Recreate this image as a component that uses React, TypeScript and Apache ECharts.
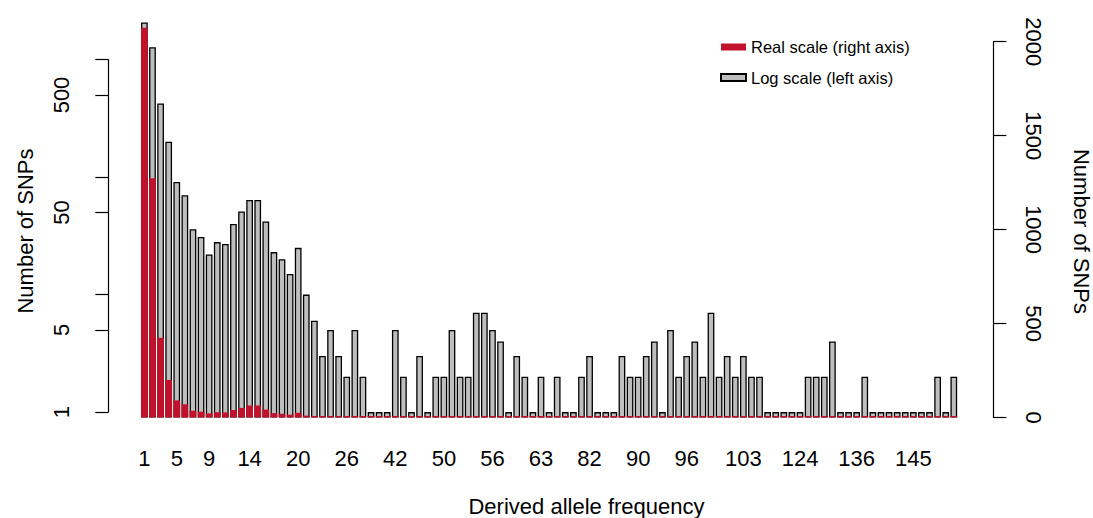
import React, { useEffect, useRef } from "react";
import * as echarts from "echarts";

// Derived allele frequency categories (only frequencies with at least one SNP)
const categories: string[] = [
  "1", "2", "3", "4", "5", "6", "7", "8", "9", "10",
  "11", "12", "13", "14", "15", "16", "17", "18", "19", "20",
  "21", "22", "23", "24", "25", "26", "28", "31", "33", "36",
  "39", "42", "43", "44", "46", "47", "48", "50", "51", "52",
  "53", "54", "55", "56", "57", "58", "59", "60", "61", "63",
  "65", "68", "71", "75", "79", "82", "83", "84", "85", "87",
  "88", "90", "91", "92", "93", "94", "95", "96", "97", "98",
  "99", "100", "101", "102", "103", "105", "108", "112", "115", "118",
  "121", "124", "126", "127", "129", "131", "132", "134", "136", "137",
  "138", "140", "141", "142", "143", "145", "146", "147", "148", "149",
  "150",
];

// Number of SNPs per derived allele frequency
const snpCounts: number[] = [
  2074, 1273, 424, 200, 91, 70, 36, 31, 22, 28,
  27, 40, 51, 64, 64, 42, 23, 20, 15, 25,
  10, 6, 3, 5, 3, 2, 5, 2, 1, 1,
  1, 5, 2, 1, 3, 1, 2, 2, 5, 2,
  2, 7, 7, 5, 4, 1, 3, 2, 1, 2,
  1, 2, 1, 1, 2, 3, 1, 1, 1, 3,
  2, 2, 3, 4, 1, 5, 2, 3, 4, 2,
  7, 2, 3, 2, 3, 2, 2, 1, 1, 1,
  1, 1, 2, 2, 2, 4, 1, 1, 1, 2,
  1, 1, 1, 1, 1, 1, 1, 1, 2, 1,
  2,
];

// Category labels that are printed under the bars
const xTickLabels: string[] = [
  "1", "5", "9", "14", "20", "26", "42", "50", "56", "63",
  "82", "90", "96", "103", "124", "136", "145",
];

// Left (log) axis ticks and labels
const leftTicks: number[] = [1, 5, 10, 50, 100, 500, 1000];
const leftLabels: number[] = [1, 5, 50, 500];

// Right (linear) axis range
const rightMin = 0;
const rightMax = 2000;
const rightStep = 500;

const seriesNames = ["Real scale (right axis)", "Log scale (left axis)"];
const axisTitle = "Number of SNPs";
const xTitle = "Derived allele frequency";

const FONT = "'Liberation Sans', Arial, Helvetica, sans-serif";
const RED = "#C1112B";
const GRAY = "#BEBEBE";

export default function App() {
  const ref = useRef<HTMLDivElement>(null);

  useEffect(() => {
    if (!ref.current) return;
    const chart = echarts.init(ref.current, undefined, { renderer: "svg" });

    const gridLeft = 140.35;
    const gridWidth = 817.5;
    const baseY = 417.5;
    const pxPerDecade = 117.5;
    const logMin = 0.9;
    const logTopY = baseY - pxPerDecade * Math.log10(1000 / logMin);
    const oneY = baseY - pxPerDecade * Math.log10(1 / logMin);
    const redTopY = 41.7;
    const H = 518;
    const gap = "16.67%";

    const option: any = {
      animation: false,
      textStyle: { fontFamily: FONT, color: "#000" },
      grid: [
        { left: gridLeft, width: gridWidth, top: logTopY, bottom: H - baseY, outerBoundsMode: "none" },
        { left: gridLeft, width: gridWidth, top: redTopY, bottom: H - baseY, outerBoundsMode: "none" },
        { left: gridLeft, width: gridWidth, top: logTopY, bottom: H - oneY, outerBoundsMode: "none" },
      ],
      legend: {
        orient: "vertical",
        left: 715,
        top: 33.5,
        itemWidth: 25,
        itemHeight: 7,
        itemGap: 13.5,
        icon: "rect",
        data: seriesNames,
        textStyle: { fontSize: 16.5, color: "#000", fontFamily: FONT },
      },
      xAxis: [
        {
          gridIndex: 0,
          type: "category",
          data: categories,
          axisLine: { show: false },
          axisTick: { show: false },
          axisLabel: {
            interval: (i: number) => xTickLabels.includes(categories[i]),
            fontSize: 22,
            color: "#000",
            fontFamily: FONT,
            margin: 30,
          },
        },
        { gridIndex: 1, type: "category", data: categories, show: false },
        { gridIndex: 2, type: "category", data: categories, show: false },
      ],
      yAxis: [
        {
          gridIndex: 0,
          type: "log",
          logBase: 10,
          min: logMin,
          max: 1000,
          startValue: logMin,
          show: false,
        },
        {
          gridIndex: 1,
          type: "value",
          position: "right",
          offset: 35.5,
          min: rightMin,
          max: rightMax,
          interval: rightStep,
          axisLine: { show: true, lineStyle: { color: "#000", width: 1.2 } },
          axisTick: { show: true, length: 13, lineStyle: { color: "#000", width: 1.2 } },
          axisLabel: {
            rotate: -90,
            fontSize: 22,
            color: "#000",
            fontFamily: FONT,
            margin: 29,
            formatter: (v: number) => String(v),
          },
          splitLine: { show: false },
        },
        {
          gridIndex: 2,
          type: "log",
          logBase: 10,
          position: "left",
          offset: gridLeft - 108.3,
          min: 1,
          max: 1000,
          axisLine: { show: true, lineStyle: { color: "#000", width: 1.2 } },
          axisTick: { show: true, length: 13, customValues: leftTicks, lineStyle: { color: "#000", width: 1.2 } },
          axisLabel: {
            customValues: leftLabels,
            rotate: 90,
            fontSize: 22,
            color: "#000",
            fontFamily: FONT,
            margin: 36,
            formatter: (v: number) => String(v),
          },
          splitLine: { show: false },
          minorTick: { show: false },
        },
      ],
      series: [
        {
          name: seriesNames[1],
          type: "bar",
          xAxisIndex: 0,
          yAxisIndex: 0,
          data: snpCounts,
          barCategoryGap: gap,
          clip: false,
          itemStyle: { color: GRAY, borderColor: "#000", borderWidth: 1.3 },
          z: 2,
        },
        {
          name: seriesNames[0],
          type: "bar",
          xAxisIndex: 1,
          yAxisIndex: 1,
          data: snpCounts,
          barCategoryGap: gap,
          barMinHeight: 1.5,
          clip: false,
          itemStyle: { color: RED },
          z: 3,
        },
      ],
      graphic: [
        {
          type: "text",
          x: 25,
          y: 231,
          rotation: Math.PI / 2,
          style: { text: axisTitle, fontSize: 22, fontFamily: FONT, fill: "#000", align: "center", verticalAlign: "middle" },
        },
        {
          type: "text",
          x: 1081.5,
          y: 231.5,
          rotation: -Math.PI / 2,
          style: { text: axisTitle, fontSize: 22, fontFamily: FONT, fill: "#000", align: "center", verticalAlign: "middle" },
        },
        {
          type: "text",
          x: 586.5,
          y: 506,
          style: { text: xTitle, fontSize: 22, fontFamily: FONT, fill: "#000", align: "center", verticalAlign: "middle" },
        },
      ],
    };

    chart.setOption(option);
    return () => chart.dispose();
  }, []);

  return (
    <div
      ref={ref}
      style={{ position: "fixed", left: 0, top: 0, width: 1093, height: 518, background: "#fff" }}
    />
  );
}
